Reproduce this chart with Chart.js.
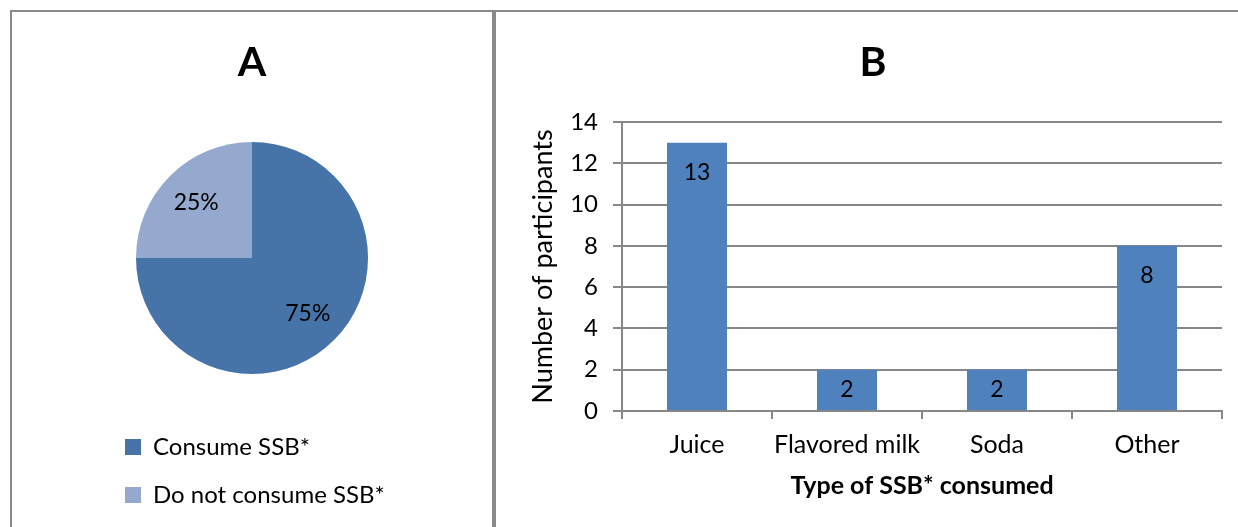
<!DOCTYPE html>
<html>
<head>
<meta charset="utf-8">
<script src="https://cdn.jsdelivr.net/npm/chart.js@4.4.1/dist/chart.umd.min.js"></script>
<style>
    html, body { margin: 0; padding: 0; background: #fff; }
    body { width: 1238px; height: 527px; position: relative; overflow: hidden; }
    .marco { position: absolute; left: 10px; top: 10px; width: 1240px; height: 530px;
             border-top: 2px solid #8a8a8a; border-left: 2px solid #8a8a8a; }
    .divisor { position: absolute; left: 492px; top: 12px; width: 4px; height: 520px; background: #8a8a8a; }
    .panel { position: absolute; top: 12px; height: 515px; }
    #panelA { left: 12px; width: 480px; }
    #panelB { left: 496px; width: 742px; }
</style>
</head>
<body>
<div class="marco"></div>
<div class="divisor"></div>
<div class="panel" id="panelA"><canvas id="graficoConsumo"></canvas></div>
<div class="panel" id="panelB"><canvas id="graficoTipos"></canvas></div>

<script>
// ------------------------------------------------ DATOS ------------------------------------------------

    const consumoLabels = ["Consume SSB*", "Do not consume SSB*"];
    const consumoPct = [75, 25];
    const consumoColores = ['#4673a8', '#95a9cf'];

    const tiposLabels = ["Juice", "Flavored milk", "Soda", "Other"];
    const tiposParticipantes = [13, 2, 2, 8];
    const ejeYMax = 14;
    const ejeYPaso = 2;

    Chart.defaults.font.family = 'Lato';
    Chart.defaults.color = '#000';
    Chart.defaults.animation = false;

    const grisEje = '#878787';

// ------------------------------------------- ETIQUETAS DENTRO DEL PASTEL ----------------------------------------------

    const etiquetasPastel = {
        id: 'etiquetasPastel',
        afterDatasetsDraw(chart) {
            const ctx = chart.ctx;
            const meta = chart.getDatasetMeta(0);
            ctx.save();
            ctx.font = '23px Lato';
            ctx.fillStyle = '#000';
            ctx.textAlign = 'center';
            ctx.textBaseline = 'middle';
            meta.data.forEach((arc, i) => {
                const p = arc.getProps(['x', 'y', 'startAngle', 'endAngle', 'outerRadius'], true);
                const medio = (p.startAngle + p.endAngle) / 2;
                const r = p.outerRadius * 0.68;
                ctx.fillText(consumoPct[i] + '%', p.x + Math.cos(medio) * r, p.y + Math.sin(medio) * r);
            });
            ctx.restore();
        }
    };

// ------------------------------------------- ETIQUETAS DE LAS BARRAS ----------------------------------------------

    const etiquetasBarras = {
        id: 'etiquetasBarras',
        afterDatasetsDraw(chart) {
            const ctx = chart.ctx;
            const meta = chart.getDatasetMeta(0);
            ctx.save();
            ctx.font = '23px Lato';
            ctx.fillStyle = '#000';
            ctx.textAlign = 'center';
            ctx.textBaseline = 'middle';
            meta.data.forEach((bar, i) => {
                const y = Math.min(bar.y + 30, (bar.y + bar.base) / 2);
                ctx.fillText(String(tiposParticipantes[i]), bar.x, y);
            });
            ctx.restore();
        }
    };

// ------------------------------------------------ PANEL A ------------------------------------------------

    const configConsumo = {
        type: 'pie',
        data: {
            labels: consumoLabels,
            datasets: [{
                data: consumoPct,
                backgroundColor: consumoColores,
                borderWidth: 0,
                radius: 116
            }]
        },
        options: {
            responsive: true,
            maintainAspectRatio: false,
            layout: { padding: { top: 0, left: 89, right: 89, bottom: 10 } },
            plugins: {
                title: {
                    display: true,
                    text: 'A',
                    font: { size: 41, weight: 'bold', family: 'Lato' },
                    padding: { top: 26.5, bottom: 17.3 }
                },
                legend: {
                    position: 'bottom',
                    align: 'start',
                    labels: {
                        boxWidth: 16,
                        boxHeight: 16,
                        padding: 24,
                        font: { size: 24, family: 'Lato' }
                    }
                },
                tooltip: { enabled: false }
            }
        },
        plugins: [etiquetasPastel]
    };

    var consumoChart = new Chart(document.getElementById('graficoConsumo'), configConsumo);

// ------------------------------------------------ PANEL B ------------------------------------------------

    const configTipos = {
        type: 'bar',
        data: {
            labels: tiposLabels,
            datasets: [{
                label: 'Participants',
                data: tiposParticipantes,
                backgroundColor: '#4f81bd',
                borderWidth: 0,
                barPercentage: 0.4,
                categoryPercentage: 1
            }]
        },
        options: {
            responsive: true,
            maintainAspectRatio: false,
            layout: { padding: { top: 0, left: 28, right: 16, bottom: 0 } },
            plugins: {
                title: {
                    display: true,
                    text: 'B',
                    font: { size: 41, weight: 'bold', family: 'Lato' },
                    padding: { top: 26.5, bottom: 34.3 }
                },
                legend: { display: false },
                tooltip: { enabled: false }
            },
            scales: {
                x: {
                    afterFit(scale) { scale.height = 116; },
                    grid: {
                        offset: true,
                        drawOnChartArea: false,
                        drawTicks: true,
                        tickLength: 8,
                        color: grisEje,
                        lineWidth: 2
                    },
                    border: { display: true, color: grisEje, width: 2 },
                    ticks: { padding: 11, font: { size: 25 }, maxRotation: 0 },
                    title: {
                        display: true,
                        text: 'Type of SSB* consumed',
                        font: { size: 25, weight: 'bold' },
                        padding: { top: 0, bottom: 26 }
                    }
                },
                y: {
                    min: 0,
                    max: ejeYMax,
                    afterFit(scale) { scale.width = 98; },
                    grid: {
                        color: grisEje,
                        lineWidth: 2,
                        tickLength: 9
                    },
                    border: { display: true, color: grisEje, width: 2 },
                    ticks: { stepSize: ejeYPaso, padding: 15, font: { size: 24 } },
                    title: {
                        display: true,
                        text: 'Number of participants',
                        font: { size: 27 },
                        padding: { top: 3, bottom: 0 }
                    }
                }
            }
        },
        plugins: [etiquetasBarras]
    };

    var tiposChart = new Chart(document.getElementById('graficoTipos'), configTipos);
</script>
</body>
</html>
